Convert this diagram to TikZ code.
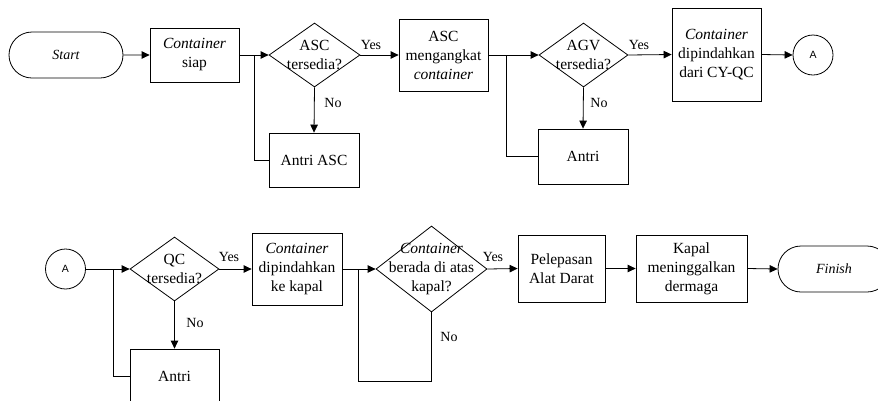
\documentclass[tikz,border=0pt]{standalone}
\usepackage{fontspec}
\setmainfont{Liberation Serif}
\newfontfamily\arialfont{Liberation Sans}
\usetikzlibrary{shapes.geometric,shapes.misc,arrows.meta}
\tikzset{
  ln/.style={draw=black, line width=0.8pt},
  arr/.style={ln, -{Triangle[length=8pt,width=7.5pt]}},
  term/.style={ln, rounded rectangle, minimum width=114pt, minimum height=46pt, inner sep=0pt, font=\fontsize{14}{17}\selectfont\itshape},
  procbox/.style={ln, rectangle, inner sep=0pt, align=center, font=\fontsize{15.5}{19}\selectfont},
  dia/.style={ln, diamond, inner sep=0pt},
  diatext/.style={align=center, inner sep=0pt, font=\fontsize{15.5}{19}\selectfont},
  conn/.style={ln, circle, minimum size=40pt, inner sep=0pt, font=\arialfont\fontsize{10.5}{12}\selectfont},
  lbl/.style={inner sep=0pt, font=\fontsize{14}{16}\selectfont}
}
\begin{document}
\begin{tikzpicture}[x=1pt,y=-1pt]
\clip (0,0) rectangle (878,400);
\fill[white] (0,0) rectangle (878,400);
% top row
\node[term] (start) at (66,55) {Start};
\node[procbox, minimum width=89pt, minimum height=54pt] (b1) at (194.5,55) {\textit{Container}\\siap};
\node[dia, minimum width=91pt, minimum height=64pt] (d1) at (314.5,55) {};
\node[diatext] (t1) at (d1.center) {ASC\\tersedia?};
\node[procbox, minimum width=90pt, minimum height=54pt] (b2) at (314,160) {Antri ASC};
\node[procbox, minimum width=89pt, minimum height=72pt] (b3) at (443.5,55) {ASC\\mengangkat\\\textit{container}};
\node[dia, minimum width=89pt, minimum height=64pt] (d2) at (583.5,55) {};
\node[diatext] (t2) at (d2.center) {AGV\\tersedia?};
\node[procbox, minimum width=90pt, minimum height=55pt] (b4) at (583,156.5) {Antri};
\node[procbox, minimum width=89pt, minimum height=93pt] (b5) at (716.5,54.5) {\textit{Container}\\dipindahkan\\dari CY-QC};
\node[conn] (c1) at (813,55) {A};
\coordinate (j1) at (254,55);
\coordinate (j2) at (506,55);
% bottom row
\node[conn] (c2) at (65.5,269) {A};
\node[dia, minimum width=89pt, minimum height=64pt] (d3) at (174.5,269) {};
\node[diatext] (t3) at (d3.center) {QC\\tersedia?};
\node[procbox, minimum width=89pt, minimum height=55pt] (b6) at (174.5,376.5) {Antri};
\node[procbox, minimum width=90pt, minimum height=72pt] (b7) at (297,269) {\textit{Container}\\dipindahkan\\ke kapal};
\node[dia, minimum width=111pt, minimum height=86pt] (d4) at (431.5,269) {};
\node[diatext] (t4) at (d4.center) {\textit{Container}\\berada di atas\\kapal?};
\node[procbox, minimum width=87pt, minimum height=67pt] (b8) at (561.5,268.5) {Pelepasan\\Alat Darat};
\node[procbox, minimum width=111pt, minimum height=67pt] (b9) at (691.5,268.5) {Kapal\\meninggalkan\\dermaga};
\node[term, minimum width=112pt] (fin) at (834,269) {Finish};
\coordinate (j3) at (113,269);
\coordinate (j4) at (358,269);
\coordinate (l4) at (358,381);
% connectors top
\draw[arr] (start) -- (b1);
\draw[arr] (b1.east) -- (d1.west);
\draw[ln] (b2.west) -| (j1);
\draw[arr] (d1.south) -- (b2.north);
\draw[arr] (d1.east) -- (b3.west);
\draw[arr] (b3.east) -- (d2.west);
\draw[ln] (b4.west) -| (j2);
\draw[arr] (d2.south) -- (b4.north);
\draw[arr] (d2.east) -- (b5.west);
\draw[arr] (b5.east) -- (c1.west);
% connectors bottom
\draw[arr] (c2.east) -- (d3.west);
\draw[ln] (b6.west) -| (j3);
\draw[arr] (d3.south) -- (b6.north);
\draw[arr] (d3.east) -- (b7.west);
\draw[arr] (b7.east) -- (d4.west);
\draw[ln] (d4.south) |- (l4) -- (j4);
\draw[arr] (d4.east) -- (b8.west);
\draw[arr] (b8.east) -- (b9.west);
\draw[arr] (b9.east) -- (fin.west);
% labels
\node[lbl] (y1) at (371,45) {Yes};
\node[lbl] (n1) at (333,103) {No};
\node[lbl] (y2) at (639,45) {Yes};
\node[lbl] (n2) at (599,103) {No};
\node[lbl] (y3) at (229,257) {Yes};
\node[lbl] (n3) at (195,323) {No};
\node[lbl] (y4) at (493,257) {Yes};
\node[lbl] (n4) at (449,337) {No};
\end{tikzpicture}
\end{document}
